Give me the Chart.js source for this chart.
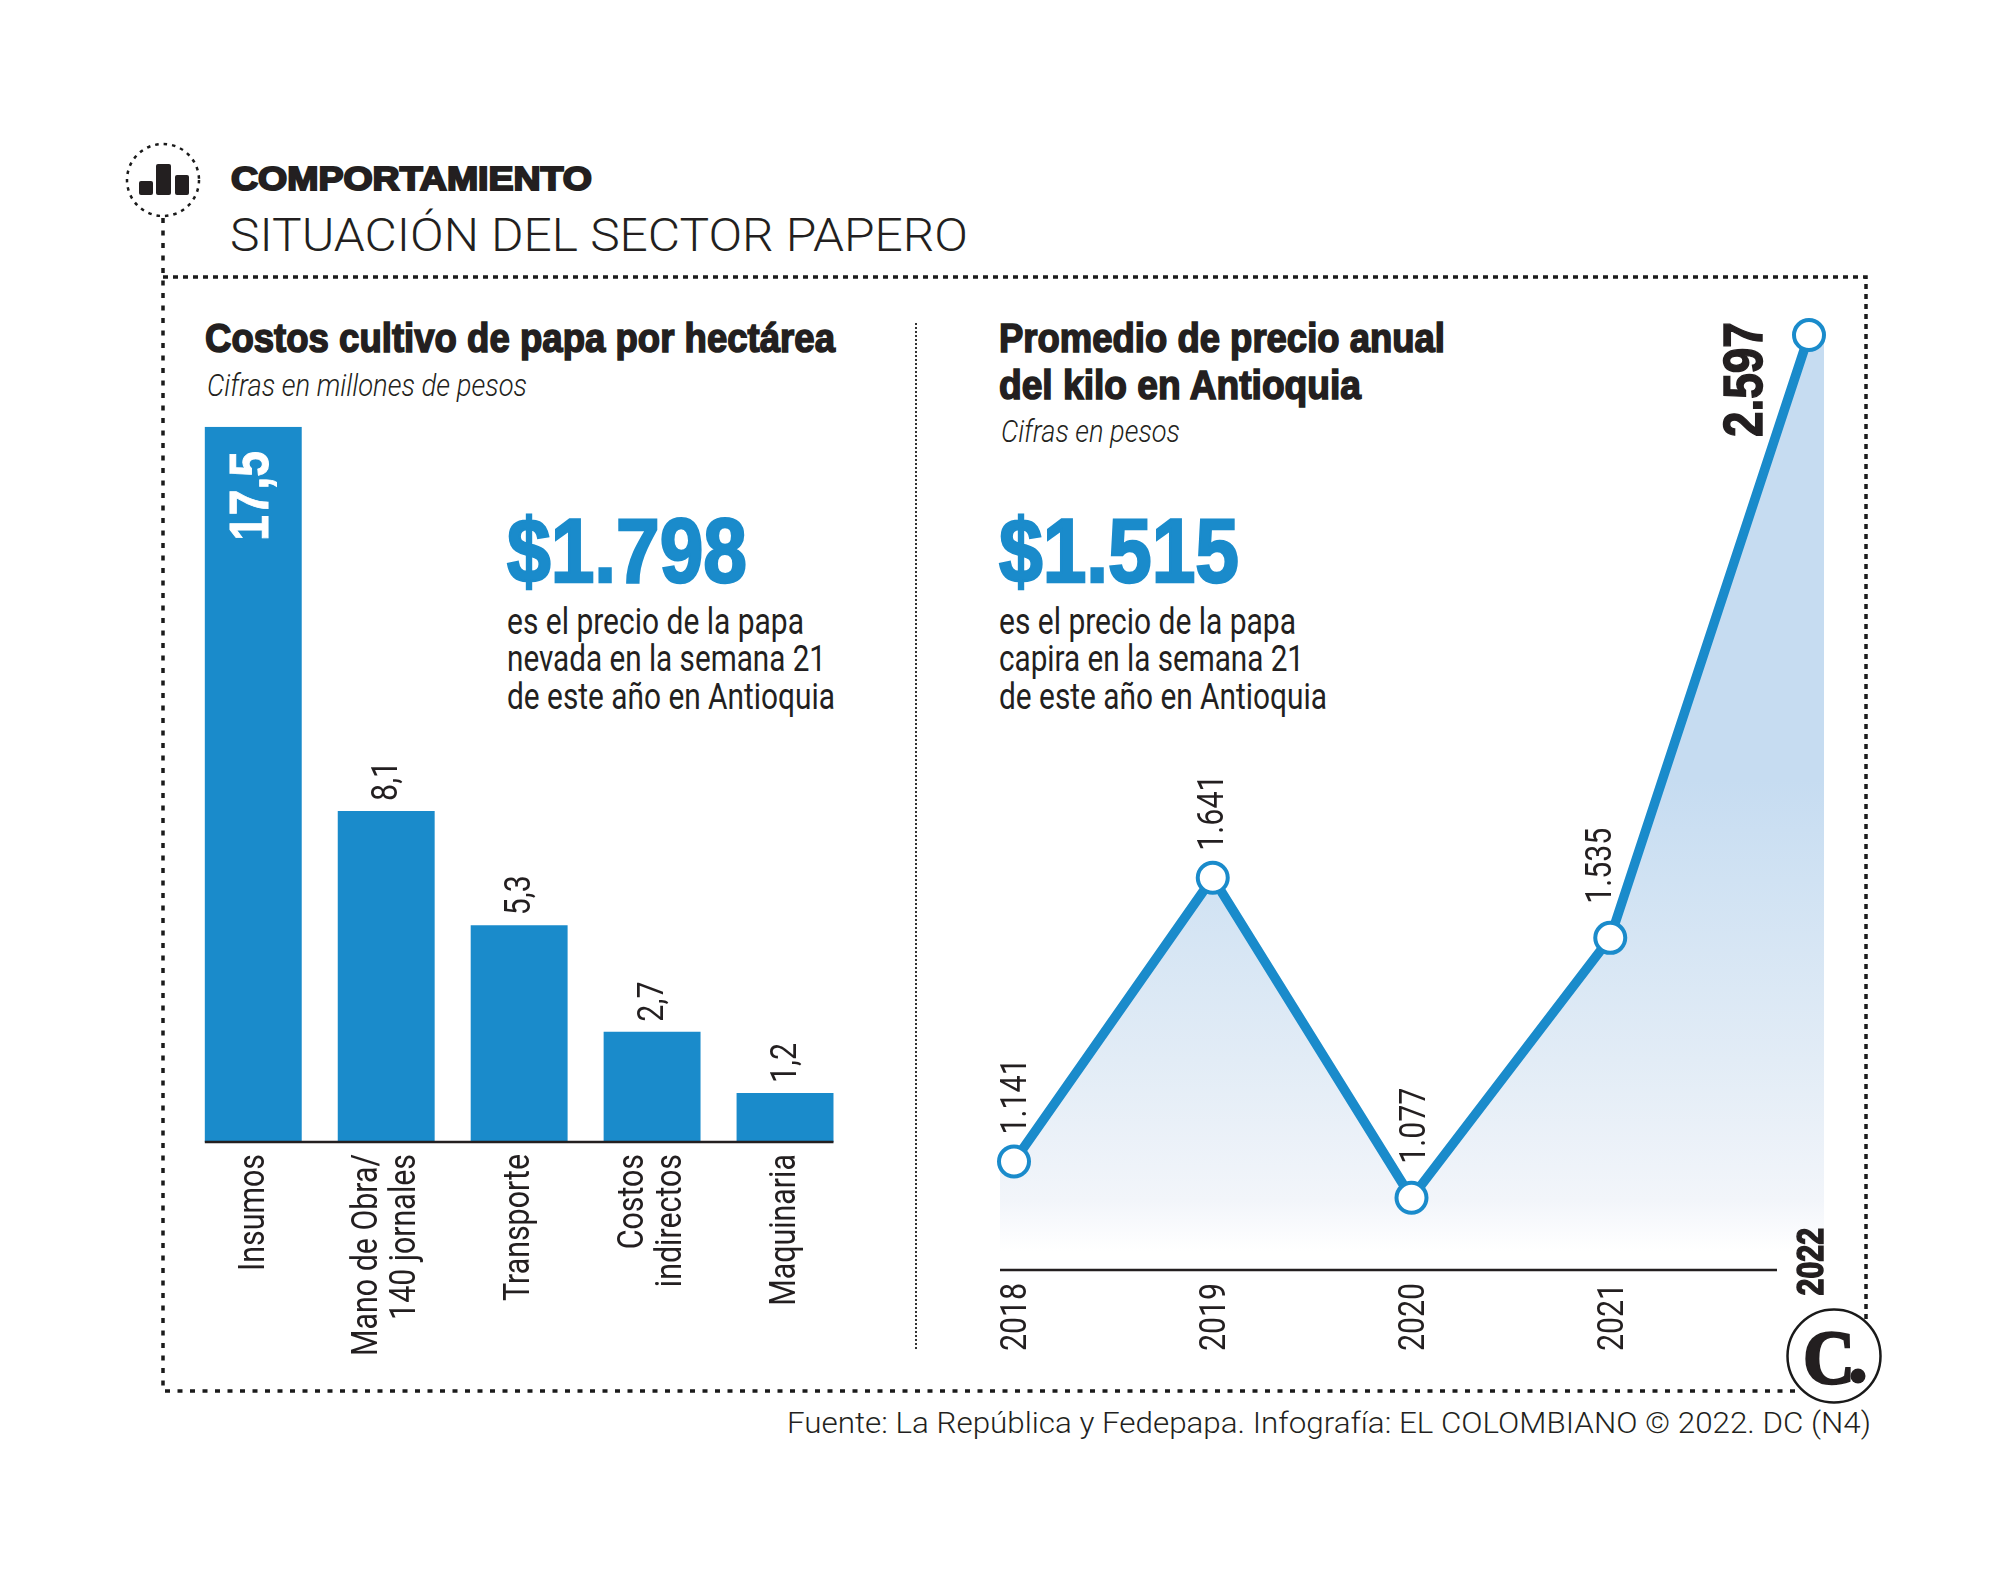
<!DOCTYPE html>
<html lang="es">
<head>
<meta charset="utf-8">
<title>Situación del sector papero</title>
<script src="https://cdn.jsdelivr.net/npm/chart.js@4"></script>
<style>
    html, body { margin: 0; background: #fff; }
    #page { position: relative; width: 2000px; height: 1578px; overflow: hidden; }
    #page svg, #page canvas { position: absolute; }
    svg text { fill: #231f20; font-family: 'Liberation Sans', sans-serif; }
    .heavy { font-weight: 700; stroke: #231f20; stroke-width: 1.6; }
    .big { font-weight: 700; font-size: 90px; fill: #1a8bcb; stroke: #1a8bcb; stroke-width: 2.5; }
    .note { font-size: 36px; font-family: Roboto, sans-serif !important; }
    .sub { font-size: 31px; font-style: italic; font-family: Roboto, sans-serif !important; font-weight: 300; }
</style>
</head>
<body>
<div id="page">
    <svg width="2000" height="1578" viewBox="0 0 2000 1578">
        <!-- Dotted frame and header icon -->
        <g fill="none" stroke="#1a1a1a" stroke-width="3.5" stroke-dasharray="5 5">
            <path d="M163 277H1866V1330"/>
            <path d="M163 218V1391H1800" stroke-dasharray="5 7.5"/>
            <circle cx="163" cy="180" r="36" stroke-width="2.5" stroke-dasharray="3.5 5"/>
        </g>
        <path d="M916 323V1349" stroke="#333" stroke-width="2" stroke-dasharray="2 2"/>
        <g fill="#231f20">
            <rect x="139" y="181" width="14" height="14" rx="2"/>
            <rect x="156" y="164" width="15" height="31" rx="2"/>
            <rect x="175" y="175" width="14" height="20" rx="2"/>
        </g>

        <text x="231" y="190" font-size="33" class="heavy" style="stroke-width:2" textLength="361" lengthAdjust="spacingAndGlyphs">COMPORTAMIENTO</text>
        <text x="230" y="251" font-size="46" style="font-family:Roboto;font-weight:300" textLength="738" lengthAdjust="spacingAndGlyphs">SITUACIÓN DEL SECTOR PAPERO</text>

        <!-- Left panel -->
        <text x="205" y="352" font-size="41" class="heavy" textLength="630" lengthAdjust="spacingAndGlyphs">Costos cultivo de papa por hectárea</text>
        <text x="207" y="396" class="sub" textLength="320" lengthAdjust="spacingAndGlyphs">Cifras en millones de pesos</text>
        <text x="507" y="582" class="big" textLength="240" lengthAdjust="spacingAndGlyphs">$1.798</text>
        <text x="507" y="634" class="note" textLength="297" lengthAdjust="spacingAndGlyphs">es el precio de la papa</text>
        <text x="507" y="671" class="note" textLength="319" lengthAdjust="spacingAndGlyphs">nevada en la semana 21</text>
        <text x="507" y="709" class="note" textLength="328" lengthAdjust="spacingAndGlyphs">de este año en Antioquia</text>

        <!-- Right panel -->
        <text x="999" y="352" font-size="41" class="heavy" textLength="446" lengthAdjust="spacingAndGlyphs">Promedio de precio anual</text>
        <text x="999" y="399" font-size="41" class="heavy" textLength="362" lengthAdjust="spacingAndGlyphs">del kilo en Antioquia</text>
        <text x="1001" y="442" class="sub" textLength="179" lengthAdjust="spacingAndGlyphs">Cifras en pesos</text>
        <text x="999" y="582" class="big" textLength="240" lengthAdjust="spacingAndGlyphs">$1.515</text>
        <text x="999" y="634" class="note" textLength="297" lengthAdjust="spacingAndGlyphs">es el precio de la papa</text>
        <text x="999" y="671" class="note" textLength="305" lengthAdjust="spacingAndGlyphs">capira en la semana 21</text>
        <text x="999" y="709" class="note" textLength="328" lengthAdjust="spacingAndGlyphs">de este año en Antioquia</text>

        <!-- Logo and source -->
        <circle cx="1834" cy="1356" r="46.5" fill="#fff" stroke="#1a1a1a" stroke-width="2.5"/>
        <text x="1803" y="1383" font-size="76" style="font-family:'Liberation Serif';font-weight:700;stroke:#231f20;stroke-width:2.5" textLength="52" lengthAdjust="spacingAndGlyphs">C</text>
        <circle cx="1858" cy="1376" r="7.5" fill="#231f20"/>
        <text x="787" y="1433" font-size="29" style="font-family:Roboto;font-weight:300" textLength="1084" lengthAdjust="spacingAndGlyphs">Fuente: La República y Fedepapa. Infografía: EL COLOMBIANO © 2022. DC (N4)</text>
    </svg>
    <canvas id="costChart" width="680" height="970" style="left:180px;top:420px"></canvas>
    <canvas id="priceChart" width="900" height="1080" style="left:970px;top:300px"></canvas>
</div>

<script>
// Costs per hectare, millions of pesos
const costCategories = [['Insumos'], ['Mano de Obra/', '140 jornales'], ['Transporte'], ['Costos', 'indirectos'], ['Maquinaria']];
const costValues = [17.5, 8.1, 5.3, 2.7, 1.2];
const costLabels = ['17,5', '8,1', '5,3', '2,7', '1,2'];

// Average yearly price per kilo, pesos
const priceYears = ['2018', '2019', '2020', '2021', '2022'];
const priceValues = [1141, 1641, 1077, 1535, 2597];
const priceLabels = ['1.141', '1.641', '1.077', '1.535', '2.597'];

const BLUE = '#1a8bcb';
const INK = '#231f20';
const LABEL = '400 37px Roboto, sans-serif';
const BOLD = "bold 56px 'Liberation Sans', sans-serif";
const SQUEEZE = 0.82;

// Write a condensed label that reads bottom to top
function drawUpright(ctx, text, x, y, align, font, color, strokeWidth) {
    ctx.save();
    ctx.translate(x, y);
    ctx.rotate(-Math.PI / 2);
    ctx.scale(SQUEEZE, 1);
    ctx.font = font;
    ctx.textAlign = align;
    ctx.textBaseline = 'middle';
    ctx.fillStyle = color;
    ctx.fillText(text, 0, 0);
    if (strokeWidth) {
        ctx.strokeStyle = color;
        ctx.lineWidth = strokeWidth;
        ctx.strokeText(text, 0, 0);
    }
    ctx.restore();
}

function drawBaseline(ctx, x0, x1, y) {
    ctx.save();
    ctx.strokeStyle = INK;
    ctx.lineWidth = 2.5;
    ctx.beginPath();
    ctx.moveTo(x0, y);
    ctx.lineTo(x1, y);
    ctx.stroke();
    ctx.restore();
}

// Baseline, category names and values of the bars
const costMarks = {
    id: 'costMarks',
    afterDatasetsDraw(chart) {
        const ctx = chart.ctx;
        const bars = chart.getDatasetMeta(0).data;
        const x = chart.scales.x;
        const bottom = chart.chartArea.bottom;
        drawBaseline(ctx, bars[0].x - bars[0].width / 2, bars[4].x + bars[4].width / 2, bottom);

        costCategories.forEach((lines, i) => {
            lines.forEach((line, j) => {
                const lineX = x.getPixelForValue(i) + (j - (lines.length - 1) / 2) * 38 + 1;
                drawUpright(ctx, line, lineX, bottom + 12, 'right', LABEL, INK);
            });
        });

        bars.forEach((bar, i) => {
            if (i === 0) {
                drawUpright(ctx, costLabels[i], bar.x - 1, bar.y + 114, 'left', BOLD, '#fff', 1);
            } else {
                drawUpright(ctx, costLabels[i], bar.x + 2, bar.y - 10, 'left', LABEL, INK);
            }
        });
    }
};

const costChart = new Chart(document.getElementById('costChart'), {
    type: 'bar',
    data: {
        labels: costCategories.map(lines => lines.join(' ')),
        datasets: [{
            data: costValues,
            backgroundColor: BLUE,
            borderWidth: 0,
            categoryPercentage: 1,
            barPercentage: 0.729
        }]
    },
    options: {
        responsive: false,
        animation: false,
        layout: { padding: { left: 6.8, right: 8.5, top: 6.7, bottom: 248 } },
        scales: {
            x: { display: false },
            y: { display: false, min: 0, max: 17.5 }
        },
        plugins: { legend: { display: false }, tooltip: { enabled: false } }
    },
    plugins: [costMarks]
});

// Area under the line, wider than the first and last points
const priceArea = {
    id: 'priceArea',
    beforeDatasetsDraw(chart) {
        const ctx = chart.ctx;
        const { left, right, top, bottom } = chart.chartArea;
        const y = chart.scales.y;
        const points = chart.getDatasetMeta(0).data;
        const gradient = ctx.createLinearGradient(0, bottom, 0, top);
        gradient.addColorStop(0.02, '#ffffff');
        gradient.addColorStop(0.075, '#f2f5fa');
        gradient.addColorStop(0.224, '#e2ecf6');
        gradient.addColorStop(0.416, '#d0e2f3');
        gradient.addColorStop(0.523, '#c6dcf1');
        gradient.addColorStop(1, '#c6dcf1');

        ctx.save();
        ctx.fillStyle = gradient;
        ctx.beginPath();
        ctx.moveTo(left - 14, bottom);
        ctx.lineTo(left - 14, y.getPixelForValue(priceValues[0]));
        points.forEach(p => ctx.lineTo(p.x, p.y));
        ctx.lineTo(right + 15, y.getPixelForValue(priceValues[4]));
        ctx.lineTo(right + 15, bottom);
        ctx.closePath();
        ctx.fill();
        ctx.restore();
    },
    afterDatasetsDraw(chart) {
        const ctx = chart.ctx;
        const x = chart.scales.x;
        const { left, bottom } = chart.chartArea;
        const points = chart.getDatasetMeta(0).data;
        drawBaseline(ctx, left - 14, left + 763, bottom);

        const shifts = [[3, 27], [1, 27], [4.5, 34], [-9, 34]];
        shifts.forEach(([dx, gap], i) => {
            drawUpright(ctx, priceLabels[i], points[i].x + dx, points[i].y - gap, 'left', LABEL, INK);
        });
        drawUpright(ctx, priceLabels[4], points[4].x - 62, points[4].y + 102, 'left', BOLD, INK, 1.5);

        priceYears.forEach((year, i) => {
            const tickX = x.getPixelForValue(i);
            if (i < 4) {
                drawUpright(ctx, year, tickX + 3, bottom + 13, 'right', LABEL, INK);
            } else {
                drawUpright(ctx, year, tickX + 4, bottom - 42, 'right', "bold 37px 'Liberation Sans', sans-serif", INK, 1.5);
            }
        });
    }
};

const priceChart = new Chart(document.getElementById('priceChart'), {
    type: 'line',
    data: {
        labels: priceYears,
        datasets: [{
            data: priceValues,
            borderColor: BLUE,
            borderWidth: 9.5,
            tension: 0,
            fill: false,
            clip: false,
            pointRadius: 15,
            pointBorderWidth: 4,
            pointBackgroundColor: '#fff',
            pointBorderColor: BLUE
        }]
    },
    options: {
        responsive: false,
        animation: false,
        layout: { padding: { left: 44, right: 61, top: 33.4, bottom: 110.1 } },
        scales: {
            x: { display: false },
            y: { display: false, min: 950, max: 2600 }
        },
        plugins: { legend: { display: false }, tooltip: { enabled: false } }
    },
    plugins: [priceArea]
});
</script>
</body>
</html>
